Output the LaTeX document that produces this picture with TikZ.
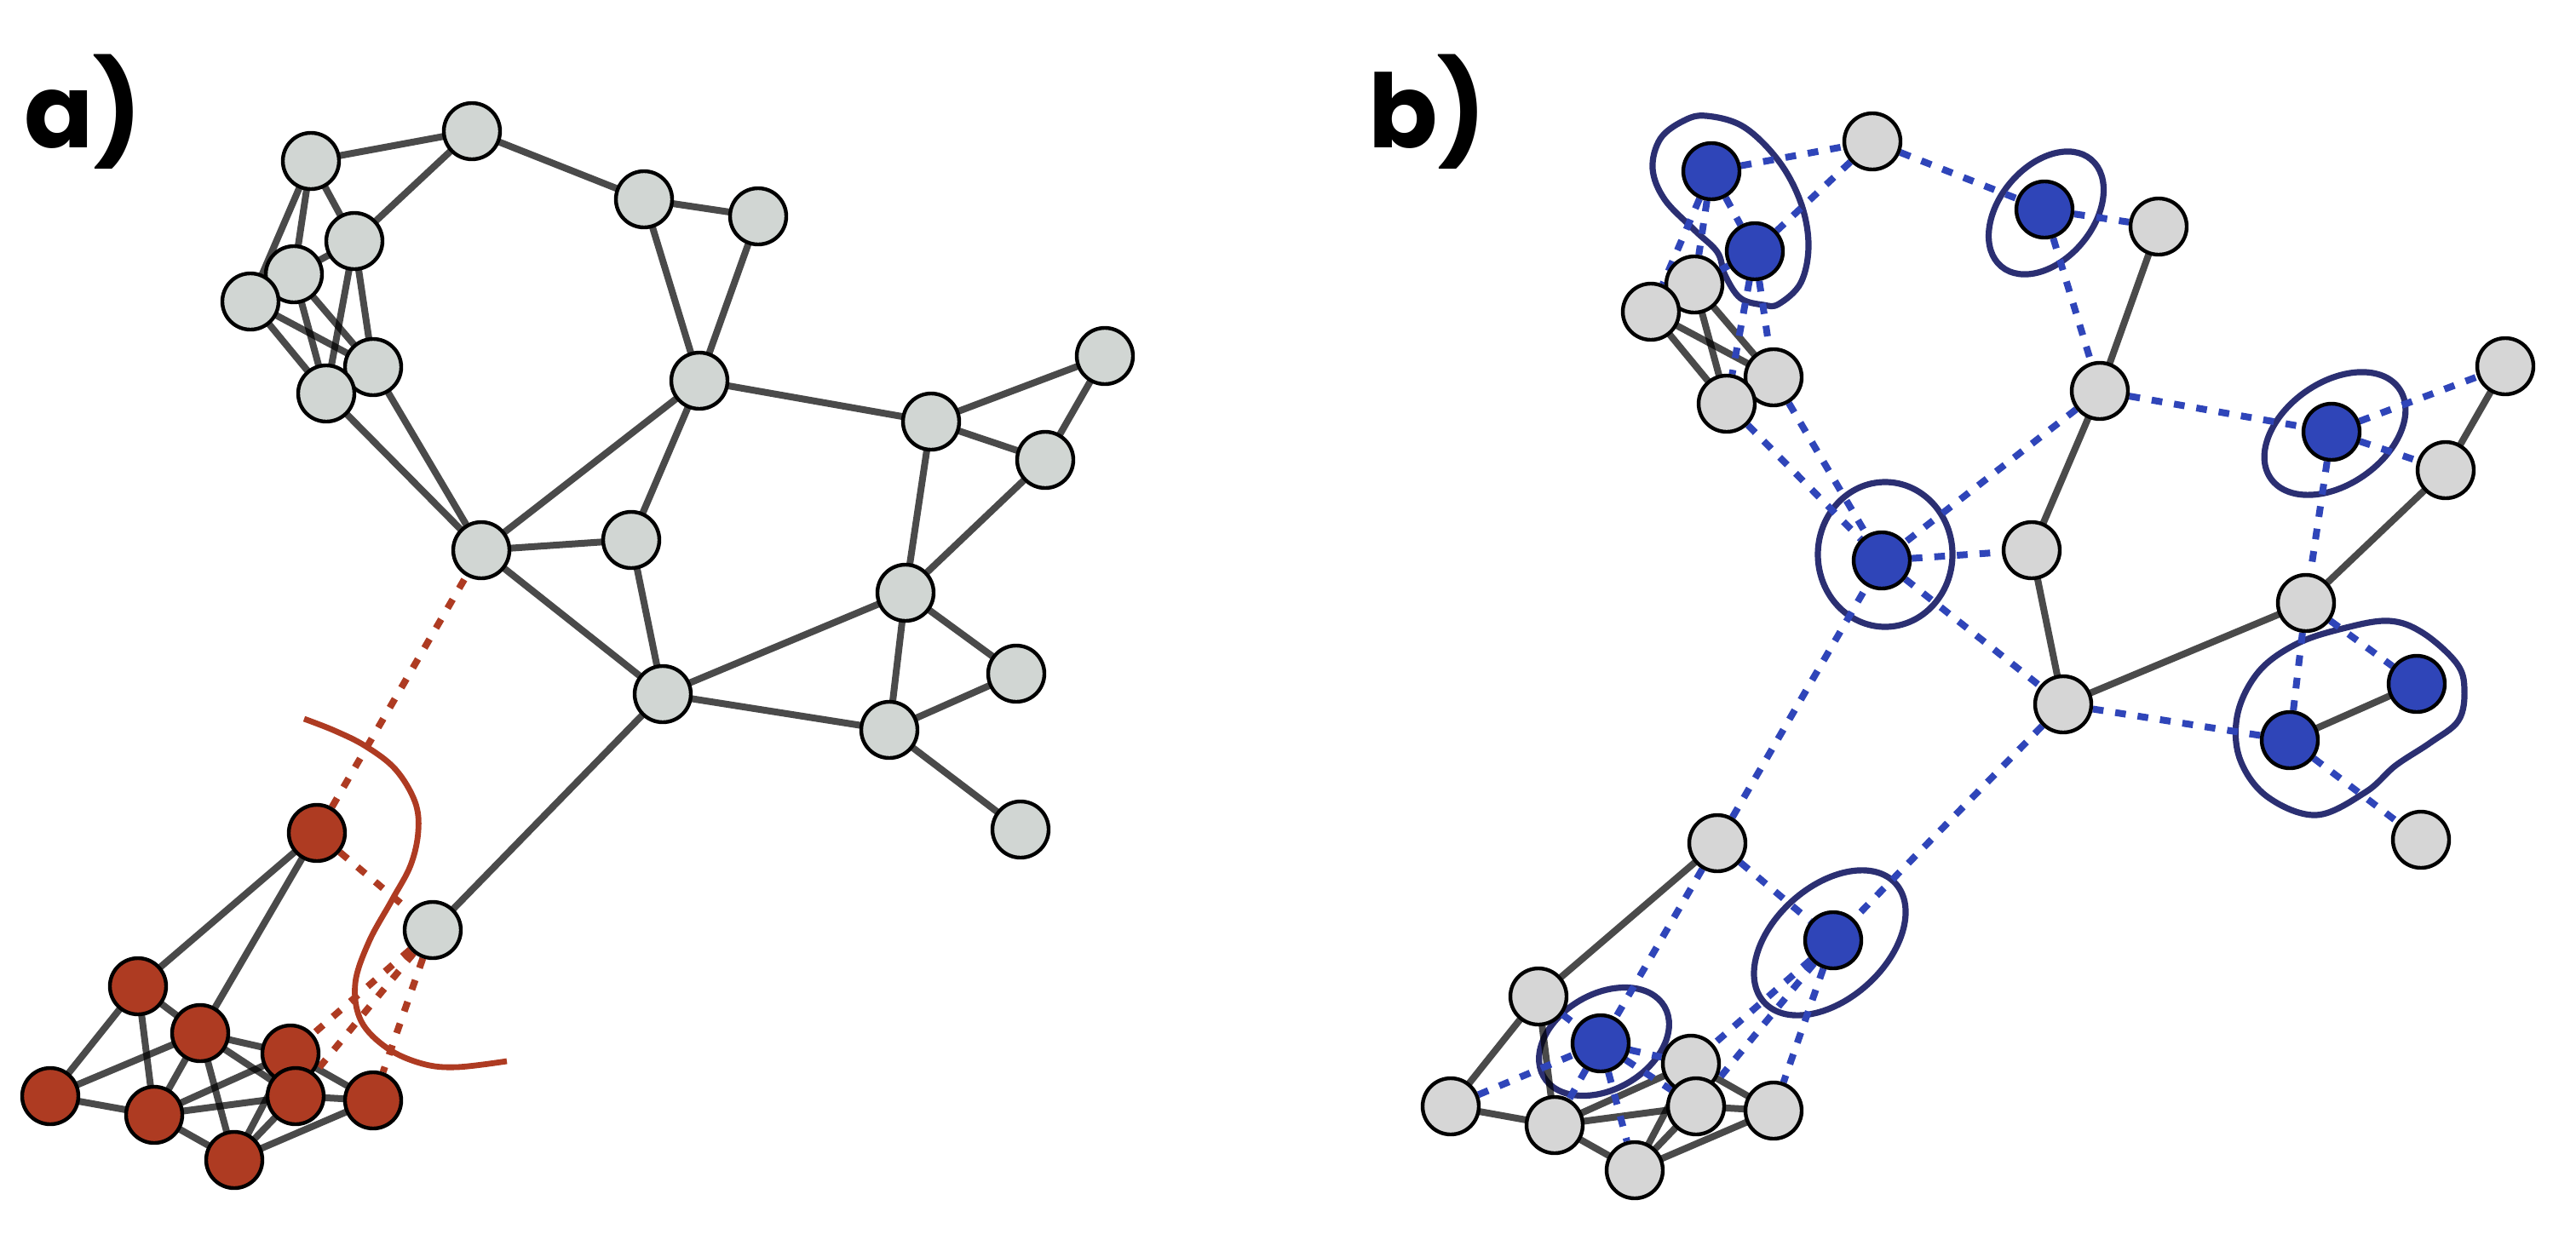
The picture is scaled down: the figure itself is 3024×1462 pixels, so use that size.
\documentclass[tikz,border=0pt]{standalone}
\usepackage{fontspec}
\newfontfamily\labfont{Poppins}
\usetikzlibrary{calc}
\pgfdeclarelayer{bg}
\pgfdeclarelayer{encl}
\pgfsetlayers{encl,bg,main}
\definecolor{gfillA}{HTML}{D1D6D3}
\definecolor{gfillB}{HTML}{D6D6D6}
\definecolor{redn}{HTML}{AE3B22}
\definecolor{bluen}{HTML}{2F45B8}
\definecolor{bluedot}{HTML}{2F45B9}
\definecolor{navy}{HTML}{2B2F72}
\tikzset{
  vtx/.style={circle, draw=black, line width=2.2pt, minimum size=33pt, inner sep=0pt},
  ga/.style={vtx, fill=gfillA},
  gb/.style={vtx, fill=gfillB},
  ra/.style={vtx, fill=redn},
  bb/.style={vtx, fill=bluen},
  sol/.style={draw=black, draw opacity=0.71, line width=4pt},
  rdash/.style={draw=redn, line width=4pt, dash pattern=on 6pt off 7.5pt},
  bdot/.style={draw=bluedot, line width=4pt, dash pattern=on 6.3pt off 7pt},
  encline/.style={draw=navy, line width=3.6pt},
  redcurve/.style={draw=redn, line width=3.4pt},
  lab/.style={anchor=base west, inner sep=0pt, font=\labfont\bfseries\fontsize{60pt}{60pt}\selectfont}
}
\begin{document}
\begin{tikzpicture}[x=0.5pt, y=-0.5pt]
\useasboundingbox (0,0) rectangle (3024,1462);

% labels
\node[lab] (la) at (28,173) {a)};
\node[lab] (lb) at (1606,173) {b)};

% ---------- panel a nodes ----------
\foreach \n/\x/\y/\s in {A1/365/189/ga, A2/554/154/ga, A3/756/234/ga, A4/890/254/ga,
  A5/416/283/ga, A6/345/322/ga, A7/294/354/ga, A8/438/431/ga, A9/383/462/ga,
  A10/821/447/ga, A11/565/646/ga, A12/741/634/ga, A13/778/815/ga, A14/1093/495/ga,
  A15/1297/418/ga, A16/1227/540/ga, A17/1063/696/ga, A18/1193/791/ga, A19/1044/857/ga,
  A20/1198/974/ga, A21/508/1092/ga, R1/372/978/ra, R2/162/1158/ra, R3/235/1213/ra,
  R4/341/1237/ra, R5/347/1287/ra, R6/438/1292/ra, R7/59/1287/ra, R8/181/1309/ra, R9/275/1362/ra}
  { \node[\s] (a\n) at (\x,\y) {}; }

% ---------- panel b nodes ----------
\foreach \n/\x/\y/\s in {A1/365/189/bb, A2/554/154/gb, A3/756/234/bb, A4/890/254/gb,
  A5/416/283/bb, A6/345/322/gb, A7/294/354/gb, A8/438/431/gb, A9/383/462/gb,
  A10/821/447/gb, A11/565/646/bb, A12/741/634/gb, A13/778/815/gb, A14/1093/495/bb,
  A15/1297/418/gb, A16/1227/540/gb, A17/1063/696/gb, A18/1193/791/bb, A19/1044/857/bb,
  A20/1198/974/gb, A21/508/1092/bb, R1/372/978/gb, R2/162/1158/gb, R3/235/1213/bb,
  R4/341/1237/gb, R5/347/1287/gb, R6/438/1292/gb, R7/59/1287/gb, R8/181/1309/gb, R9/275/1362/gb}
  { \node[\s] (b\n) at (\x+1644,\y+12) {}; }

% ---------- panel a edges ----------
\begin{pgfonlayer}{bg}
\foreach \u/\v in {A1/A2, A2/A5, A2/A3, A3/A4, A1/A6, A1/A5, A1/A7, A5/A6, A5/A9, A5/A8,
  A6/A9, A6/A8, A7/A8, A7/A9, A9/A11, A8/A11, A3/A10, A4/A10, A10/A11, A10/A12, A11/A12,
  A11/A13, A12/A13, A10/A14, A14/A15, A14/A16, A15/A16, A14/A17, A16/A17, A17/A13,
  A17/A18, A17/A19, A18/A19, A13/A19, A19/A20, A13/A21,
  R1/R2, R1/R3, R2/R7, R2/R8, R2/R3, R7/R3, R7/R8, R3/R8, R3/R4, R3/R9, R3/R5, R4/R6,
  R5/R6, R8/R4, R8/R5, R8/R9, R9/R4, R9/R5, R9/R6}
  { \draw[sol] (a\u.center) -- (a\v.center); }
\foreach \u/\v in {R1/A11, R1/A21, A21/R4, A21/R5, A21/R6}
  { \draw[rdash] (a\u) -- (a\v); }

% ---------- panel b edges ----------
\foreach \u/\v in {A6/A9, A6/A8, A7/A8, A7/A9, A4/A10, A10/A12, A12/A13, A15/A16, A16/A17,
  A17/A13, A18/A19, R1/R2, R2/R7, R2/R8, R7/R8, R4/R6, R5/R6, R8/R4, R8/R5, R8/R9,
  R9/R4, R9/R5, R9/R6}
  { \draw[sol] (b\u.center) -- (b\v.center); }
\foreach \u/\v in {A1/A2, A2/A5, A2/A3, A3/A4, A1/A6, A1/A5, A1/A7, A5/A6, A5/A9, A5/A8,
  A9/A11, A8/A11, A3/A10, A10/A11, A11/A12, A11/A13, A10/A14, A14/A15, A14/A16, A14/A17,
  A17/A18, A17/A19, A13/A19, A19/A20, A13/A21, R1/R3, R2/R3, R7/R3, R3/R8, R3/R4, R3/R9,
  R3/R5, R1/A11, R1/A21, A21/R4, A21/R5, A21/R6}
  { \draw[bdot] (b\u) -- (b\v); }
\end{pgfonlayer}

\begin{pgfonlayer}{encl}
% ---------- red separating curve (panel a) ----------
\draw[redcurve] plot[smooth, tension=0.6] coordinates {(357,844) (393,858) (429,876) (464,903)
  (487,941) (491,976) (482,1016) (460,1057) (433,1106) (417,1155) (424,1199) (455,1231)
  (496,1249) (536,1253) (595,1246)};

% ---------- enclosures (panel b) ----------
\draw[encline] plot[smooth cycle, tension=0.6] coordinates {(2003,136) (2047,149) (2088,189)
  (2114,238) (2123,288) (2114,332) (2088,357) (2070,358) (2043,350) (2025,323) (2016,296)
  (1989,270) (1954,234) (1940,198) (1949,163) (1976,142)};
\draw[encline, rotate around={50:(2402,250)}] (2402,250) ellipse [x radius=82, y radius=55];
\draw[encline] (2213,651) ellipse [x radius=79, y radius=85];
\draw[encline, rotate around={35:(2741,509)}] (2741,509) ellipse [x radius=92, y radius=60];
\draw[encline] plot[smooth cycle, tension=0.6] coordinates {(2804,729) (2844,743) (2884,779)
  (2893,810) (2886,846) (2853,872) (2812,899) (2777,930) (2719,957) (2661,935) (2629,890)
  (2627,837) (2652,788) (2696,756) (2750,738)};
\draw[encline, rotate around={42:(2148,1107)}] (2148,1107) ellipse [x radius=104, y radius=66];
\draw[encline, rotate around={30:(1883,1223)}] (1883,1223) ellipse [x radius=82, y radius=56];
\end{pgfonlayer}
\end{tikzpicture}
\end{document}
